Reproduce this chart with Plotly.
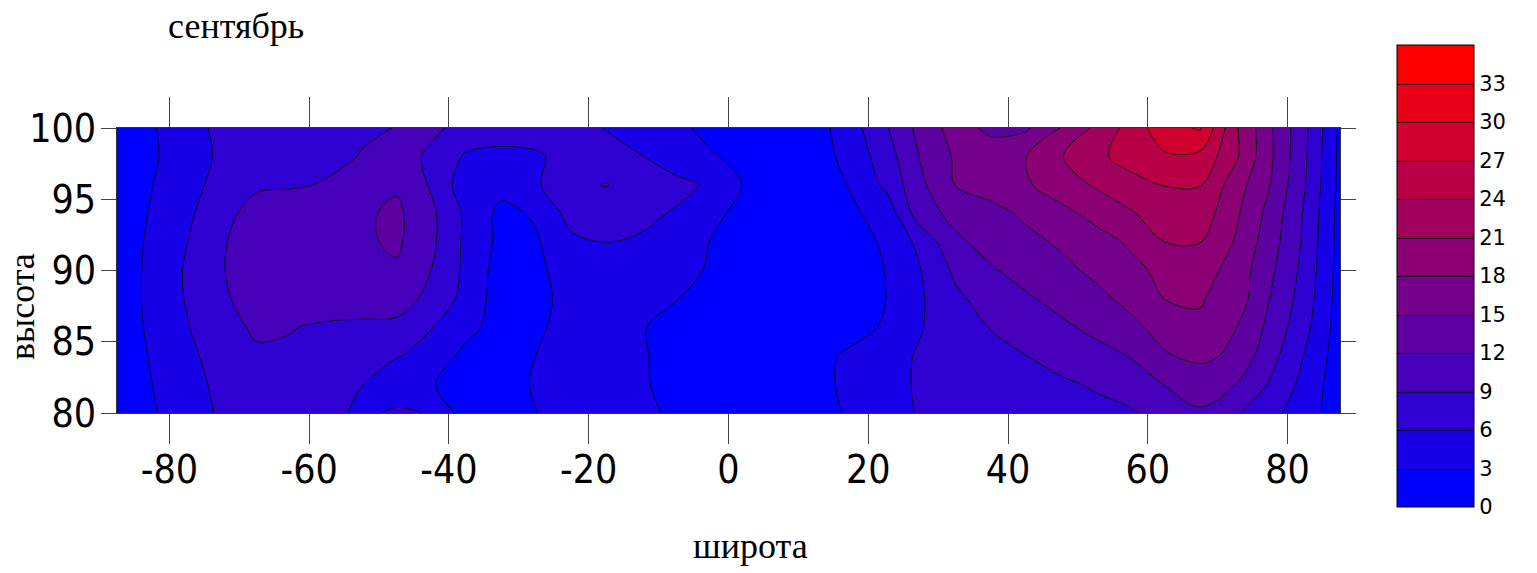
import plotly.graph_objects as go

# ---- data -------------------------------------------------------------
latitude = [-87.5, -82.5, -77.5, -72.5, -67.5, -62.5, -57.5, -52.5, -47.5, -42.5,
            -37.5, -32.5, -27.5, -22.5, -17.5, -12.5, -7.5, -2.5, 2.5, 7.5,
            12.5, 17.5, 22.5, 27.5, 32.5, 37.5, 42.5, 47.5, 52.5, 57.5,
            62.5, 67.5, 72.5, 77.5, 82.5, 87.5]

heights = [80, 82, 84, 86, 88, 90, 92, 94, 96, 98, 100]

row_80 = [1.0, 2.85, 3.8, 6.7, 7.2, 7.1, 6.6, 5.6, 6.3, 5.9, 1.5, 1.3, 2.95, 4.2, 4.0, 3.8, 2.4, 1.5,
          1.0, 1.0, 1.6, 3.46, 5.1, 6.2, 6.6, 7.0, 7.4, 7.8, 8.2, 8.6, 10.2, 11.8, 9.4, 6.95, 4.25, 1.53]
row_82 = [1.0, 2.97, 4.5, 7.0, 7.8, 7.6, 6.9, 6.05, 4.8, 3.2, 1.5, 1.4, 3.4, 3.9, 3.9, 3.3, 2.15, 1.3,
          1.0, 1.0, 2.0, 3.8, 5.2, 6.3, 6.8, 7.4, 8.0, 8.55, 9.3, 10.7, 12.1, 12.8, 12.05, 8.7, 5.0, 1.2]
row_84 = [0.9, 3.3, 5.4, 7.1, 8.7, 8.6, 7.5, 6.2, 6.1, 5.5, 1.8, 1.2, 3.05, 4.2, 4.3, 3.2, 2.3, 1.4,
          1.0, 1.0, 2.0, 3.6, 5.0, 6.3, 7.2, 8.1, 8.95, 10.0, 11.0, 12.1, 14.7, 15.8, 14.3, 10.1, 5.8, 1.4]
row_86 = [0.8, 3.7, 5.8, 8.3, 9.3, 9.1, 8.55, 8.3, 8.2, 6.05, 4.2, 1.2, 2.2, 4.9, 4.8, 3.2, 1.95, 1.2,
          1.0, 0.9, 1.0, 1.8, 3.4, 5.85, 7.7, 9.1, 10.3, 11.4, 12.7, 14.2, 16.2, 17.6, 15.1, 11.2, 6.8, 1.6]
row_88 = [0.8, 3.95, 6.2, 8.6, 10.1, 10.4, 10.6, 10.7, 10.4, 8.1, 5.0, 1.5, 2.3, 3.8, 4.2, 4.0, 3.1, 1.4,
          1.2, 1.0, 1.1, 1.6, 2.98, 5.7, 8.4, 10.2, 11.6, 12.9, 14.2, 15.8, 18.05, 18.2, 16.8, 11.95, 7.5, 1.7]
row_90 = [0.8, 3.9, 6.3, 8.85, 10.5, 10.9, 11.0, 11.2, 11.6, 8.95, 5.3, 1.6, 2.5, 4.1, 4.6, 4.4, 3.8, 2.75,
          1.6, 1.0, 1.1, 1.7, 3.05, 5.95, 9.6, 11.7, 13.0, 14.2, 15.6, 17.2, 18.8, 19.3, 16.9, 12.6, 8.0, 1.8]
row_92 = [0.8, 3.7, 5.95, 8.7, 10.6, 11.0, 11.2, 11.5, 12.5, 9.6, 5.3, 2.2, 2.7, 5.4, 6.05, 5.5, 4.5, 2.9,
          1.8, 1.1, 1.2, 2.0, 3.35, 6.9, 11.5, 13.0, 14.2, 15.4, 16.8, 18.4, 21.05, 21.05, 17.8, 13.4, 8.4, 1.9]
row_94 = [0.9, 3.3, 5.6, 7.4, 10.9, 11.0, 11.2, 11.5, 12.6, 9.6, 5.4, 2.2, 3.4, 7.1, 7.6, 7.0, 5.6, 3.6,
          2.2, 1.2, 1.3, 2.6, 3.9, 10.8, 12.8, 14.0, 15.5, 17.1, 18.9, 20.7, 22.5, 22.7, 18.6, 14.0, 8.6, 2.0]
row_96 = [1.0, 2.95, 4.2, 7.8, 8.3, 8.7, 9.2, 10.3, 11.6, 8.65, 4.2, 4.0, 5.6, 8.5, 9.1, 8.0, 7.2, 5.3,
          2.7, 1.3, 1.4, 3.2, 6.6, 11.4, 15.1, 16.3, 17.6, 19.5, 21.3, 22.8, 24.1, 24.1, 19.5, 15.0, 9.1, 2.2]
row_98 = [1.0, 2.8, 3.8, 6.8, 7.5, 8.0, 8.4, 9.1, 10.5, 8.4, 5.6, 5.0, 5.6, 7.1, 7.6, 6.1, 3.6, 3.3,
          2.0, 1.2, 1.6, 4.1, 7.5, 12.2, 15.4, 16.6, 17.9, 20.8, 23.2, 25.3, 26.6, 26.2, 21.6, 15.5, 9.4, 2.3]
row_100 = [1.0, 2.9, 3.7, 7.5, 7.8, 8.0, 8.3, 8.7, 9.05, 9.6, 8.0, 7.8, 7.5, 6.8, 5.9, 4.8, 3.8, 2.0,
           1.5, 1.2, 1.8, 4.7, 8.7, 13.0, 16.3, 14.3, 14.5, 18.0, 21.5, 25.1, 29.0, 30.3, 21.5, 15.5, 9.6, 2.5]

values = [row_80, row_82, row_84, row_86, row_88, row_90, row_92, row_94, row_96, row_98, row_100]

x_ticks = [-80, -60, -40, -20, 0, 20, 40, 60, 80]
x_tick_text = ["-80", "-60", "-40", "-20", "0", "20", "40", "60", "80"]
y_ticks = [80, 85, 90, 95, 100]
y_tick_text = ["80", "85", "90", "95", "100"]
cbar_ticks = [0, 3, 6, 9, 12, 15, 18, 21, 24, 27, 30, 33]

title_text = "сентябрь"
x_title = "широта"
y_title = "высота"

# ---- layout geometry (pixels) ----------------------------------------
W, H = 1537, 573
L, R, T, B = 117, 1340, 128, 413
pw, ph = R - L, B - T


def px_x(p):
    return (p - L) / pw


def px_y(p):
    return (B - p) / ph


tick_font = dict(family="Liberation Sans Narrow, Arial Narrow, DejaVu Sans Condensed, Liberation Sans",
                 size=39, color="black")
serif = dict(family="Liberation Serif, Times New Roman, serif", size=36, color="black")

fig = go.Figure(go.Contour(
    x=latitude, y=heights, z=values,
    zauto=False, zmin=0, zmax=36,
    autocontour=False,
    contours=dict(start=3, end=33, size=3, coloring="fill", showlines=True),
    line=dict(color="black", width=0.8),
    colorscale=[[0, "rgb(0,0,255)"], [1, "rgb(255,0,0)"]],
    colorbar=dict(
        x=px_x(1397), xanchor="left", xpad=0,
        y=px_y(276), yanchor="middle", ypad=0,
        len=462, lenmode="pixels",
        thickness=77, thicknessmode="pixels",
        tickvals=cbar_ticks, ticks="",
        tickfont=dict(family="DejaVu Sans", size=21, color="black"),
        outlinewidth=1, outlinecolor="black",
    ),
))

fig.update_layout(
    width=W, height=H,
    margin=dict(l=L, r=W - R, t=T, b=H - B, pad=0),
    paper_bgcolor="white", plot_bgcolor="white",
    showlegend=False,
    xaxis=dict(range=[-87.5, 87.5], tickvals=x_ticks, ticktext=x_tick_text,
               ticks="outside", ticklen=30, tickwidth=1, tickcolor="#444",
               mirror="ticks", showline=True, linecolor="#333", linewidth=1,
               showgrid=False, zeroline=False, tickfont=tick_font,
               ticklabelstandoff=-8),
    yaxis=dict(range=[80, 100], tickvals=y_ticks, ticktext=y_tick_text,
               ticks="outside", ticklen=15, tickwidth=1, tickcolor="#444",
               mirror="ticks", showline=True, linecolor="#333", linewidth=1,
               showgrid=False, zeroline=False, tickfont=tick_font,
               ticklabelstandoff=-3),
    annotations=[
        dict(text=title_text, xref="paper", yref="paper", x=px_x(236), y=px_y(26),
             xanchor="center", yanchor="middle", showarrow=False, font=serif),
        dict(text=x_title, xref="paper", yref="paper", x=px_x(750), y=px_y(546),
             xanchor="center", yanchor="middle", showarrow=False, font=serif),
        dict(text=y_title, xref="paper", yref="paper", x=px_x(22), y=px_y(307),
             xanchor="center", yanchor="middle", showarrow=False, font=serif, textangle=-90),
    ],
)

fig.write_html("out.html")
